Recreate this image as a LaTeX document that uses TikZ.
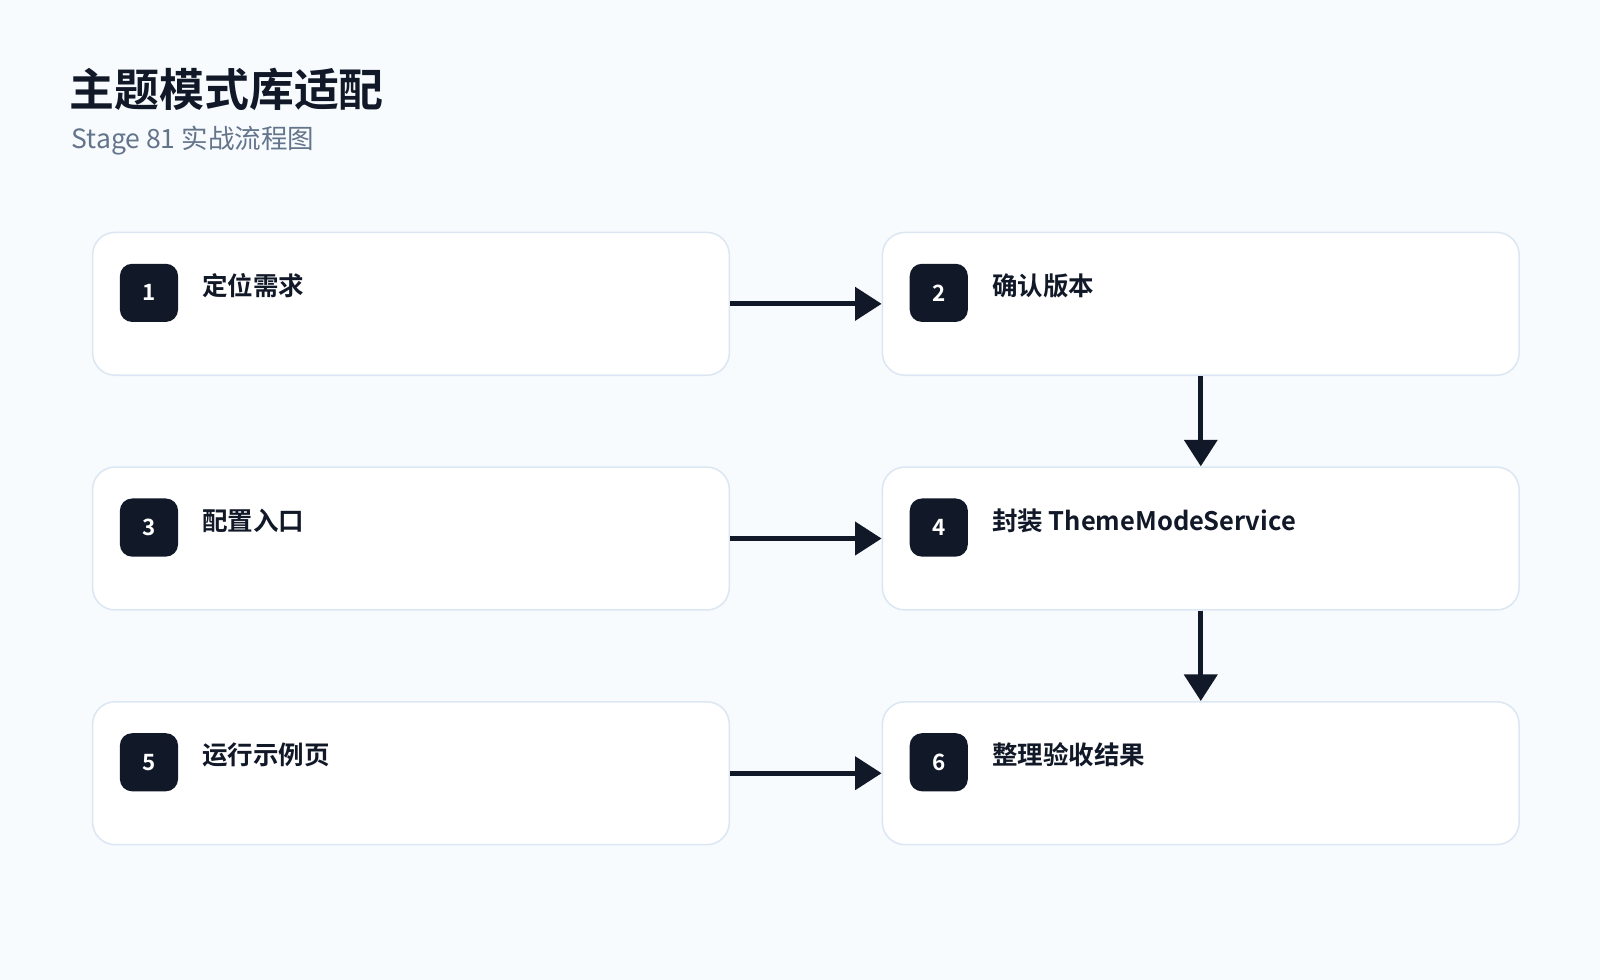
\documentclass[tikz,border=0pt]{standalone}
\usepackage{fontspec}
\setmainfont{Noto Sans CJK SC}
\newfontfamily\cjkb{Noto Sans CJK SC Bold}
\usetikzlibrary{arrows.meta}
\definecolor{bg}{HTML}{F7FBFE}
\definecolor{ink}{HTML}{111827}
\definecolor{bord}{HTML}{DCE7F3}
\definecolor{sub}{HTML}{64748B}
\begin{document}
\begin{tikzpicture}[x=1pt,y=-1pt,
  box/.style={draw=bord,line width=1.5pt,fill=white,rounded corners=22pt,minimum width=624pt,minimum height=140pt,anchor=north west,inner sep=0pt},
  badge/.style={fill=ink,rounded corners=12pt,minimum width=57pt,minimum height=57pt,text=white,font=\cjkb\fontsize{22}{22}\selectfont,inner sep=0pt},
  lab/.style={anchor=west,text=ink,font=\cjkb\fontsize{25}{25}\selectfont,inner sep=0pt},
  arr/.style={draw=ink,line width=5pt,-{Triangle[length=26pt,width=32pt]}}]
\fill[bg] (0,0) rectangle (1568,960);
\useasboundingbox (0,0) rectangle (1568,960);
\node[anchor=west,text=ink,font=\cjkb\fontsize{44}{44}\selectfont,inner sep=0pt] (t) at (68,88) {主题模式库适配};
\node[anchor=west,text=sub,font=\fontsize{26}{26}\selectfont,inner sep=0pt] (s) at (70,138) {Stage 81 实战流程图};
\foreach \n/\x/\y/\t in {1/90/227/定位需求,2/864/227/确认版本,3/90/457/配置入口,4/864/457/封装 ThemeModeService,5/90/687/运行示例页,6/864/687/整理验收结果}{
  \node[box] (b\n) at (\x,\y) {};
  \node[badge] (k\n) at (\x+56,\y+60) {\n};
  \node[lab] (l\n) at (\x+108,\y+53) {\t};
}
\draw[arr] (b1.east) ++(0,0) -- (b2.west);
\draw[arr] (b3.east) -- (b4.west);
\draw[arr] (b5.east) -- (b6.west);
\draw[arr] (b2.south) -- (b4.north);
\draw[arr] (b4.south) -- (b6.north);
\end{tikzpicture}
\end{document}
